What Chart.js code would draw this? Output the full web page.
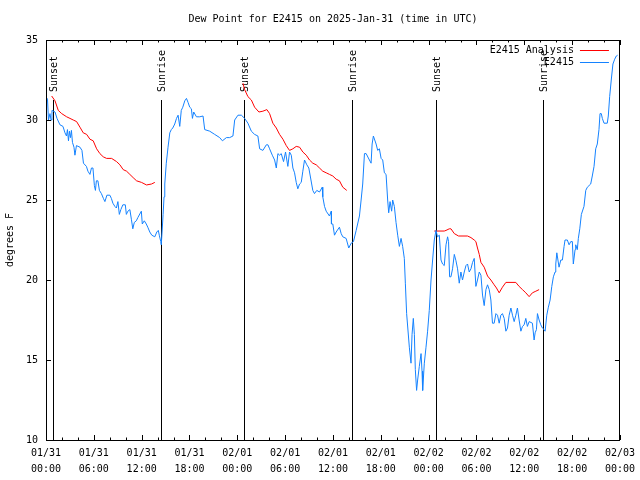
<!DOCTYPE html>
<html>
<head>
<meta charset="utf-8">
<title>Dew Point for E2415</title>
<script src="https://cdn.jsdelivr.net/npm/chart.js@4.4.1/dist/chart.umd.min.js"></script>
<style>
  html, body { margin: 0; padding: 0; background: #fff; }
  canvas { display: block; }
</style>
</head>
<body>
<canvas id="chart" width="640" height="480"></canvas>
<script>
// hours since 2025-01-31 00:00 UTC
const obsHours = [
  0.00,0.19,0.31,0.50,0.63,0.75,1.13,1.38,1.75,2.13,
  2.38,2.57,2.69,2.82,2.94,3.07,3.19,3.32,3.51,3.63,
  3.82,4.26,4.51,4.70,5.07,5.26,5.51,5.70,5.89,6.07,
  6.20,6.32,6.51,6.70,6.95,7.20,7.39,7.64,8.01,8.20,
  8.39,8.64,8.83,9.02,9.20,9.39,9.64,9.95,10.08,10.27,
  10.52,10.71,10.89,11.08,11.33,11.52,11.96,12.08,12.33,12.58,
  12.77,13.02,13.27,13.65,13.90,14.09,14.21,14.40,14.46,14.56,
  14.69,14.81,14.90,15.09,15.31,15.53,15.72,15.90,16.15,16.37,
  16.57,16.78,16.97,17.16,17.41,17.62,17.82,18.03,18.24,18.37,
  18.53,18.87,19.28,19.70,19.91,20.54,21.16,21.79,22.13,22.63,
  23.04,23.45,23.67,24.08,24.51,24.92,25.33,25.76,26.17,26.58,
  26.80,27.21,27.64,27.84,28.05,28.39,28.68,28.89,29.09,29.30,
  29.51,29.80,30.05,30.34,30.55,30.77,30.97,31.18,31.39,31.59,
  31.81,32.02,32.22,32.43,32.72,32.97,33.15,33.47,33.68,33.97,
  34.31,34.65,34.72,34.94,35.15,35.56,35.78,35.81,35.98,36.19,
  36.40,36.81,37.03,37.23,37.65,37.98,38.28,38.57,38.91,39.32,
  39.53,39.73,39.95,40.16,40.57,40.78,40.91,41.07,41.41,41.61,
  41.82,42.04,42.24,42.45,42.66,42.86,42.99,43.16,43.36,43.49,
  43.70,43.91,44.12,44.33,44.54,44.74,44.95,45.08,45.24,45.58,
  45.79,45.92,46.08,46.21,46.33,46.49,46.62,46.83,47.05,47.17,
  47.25,47.46,47.67,47.87,48.08,48.30,48.50,48.71,48.92,49.12,
  49.34,49.55,49.75,49.96,50.18,50.38,50.50,50.63,50.80,51.00,
  51.22,51.43,51.63,51.84,52.05,52.25,52.47,52.68,52.88,53.09,
  53.31,53.51,53.72,53.93,54.13,54.35,54.56,54.76,54.97,55.19,
  55.39,55.60,55.81,56.01,56.22,56.44,56.64,56.85,57.06,57.26,
  57.48,57.69,57.89,58.10,58.32,58.52,58.73,58.94,59.14,59.35,
  59.57,59.77,59.98,60.19,60.39,60.61,61.02,61.23,61.36,61.52,
  61.65,61.86,62.07,62.27,62.49,62.61,62.82,63.02,63.24,63.45,
  63.65,63.86,63.95,64.08,64.36,64.58,64.78,64.99,65.11,65.40,
  65.62,65.83,66.03,66.15,66.37,66.45,66.65,66.78,66.96,67.16,
  67.49,67.71,67.91,68.12,68.33,68.53,68.75,68.96,69.16,69.37,
  69.50,69.66,69.79,70.00,70.41,70.54,70.71,70.91,71.12,71.34,
  71.54,71.71
];
const obsDewpt = [
  31.45,31.3,30.0,30.4,30.0,30.6,30.5,30.1,29.7,29.6,
  29.2,29.0,29.4,28.7,29.3,28.9,29.35,28.6,28.3,27.8,
  28.4,28.3,28.1,27.3,27.1,26.8,26.6,27.0,27.0,25.9,
  25.6,26.2,26.2,25.6,25.4,25.1,24.9,25.3,25.3,25.1,
  24.8,24.6,24.5,24.9,24.1,24.4,24.7,24.7,24.1,24.3,
  24.4,23.8,23.2,23.6,23.7,23.9,24.3,23.5,23.7,23.5,
  23.3,23.0,22.8,22.7,23.0,23.1,22.8,22.4,22.2,23.0,
  24.1,25.2,26.0,27.3,28.3,29.2,29.4,29.5,29.75,30.1,
  30.3,29.6,30.6,30.8,31.2,31.35,31.1,30.8,30.7,30.1,
  30.5,30.2,30.2,30.25,29.4,29.3,29.1,28.9,28.7,28.9,
  28.9,29.0,30.0,30.3,30.3,30.1,29.8,29.3,29.1,29.0,
  28.2,28.1,28.45,28.45,28.2,27.8,27.5,27.0,27.9,27.8,
  27.9,27.4,28.0,27.1,28.0,27.8,27.0,26.7,26.1,25.7,
  26.0,26.1,26.8,27.5,27.2,27.0,26.5,25.6,25.4,25.6,
  25.5,25.8,25.2,24.6,24.3,24.0,24.3,23.5,23.5,22.8,
  23.0,23.3,22.9,22.7,22.6,22.0,22.3,22.4,23.1,24.0,
  25.0,26.0,27.9,27.9,27.5,27.3,28.5,29.0,28.5,28.1,
  28.2,27.6,27.5,26.7,26.6,25.0,24.2,24.9,24.3,25.0,
  24.6,23.6,22.8,22.1,22.6,22.1,21.35,19.8,17.9,15.8,
  14.8,16.6,17.6,16.6,14.4,13.1,13.75,14.6,15.4,14.3,
  13.1,14.8,15.8,16.8,18.1,20.0,21.25,22.5,23.1,22.7,
  22.8,21.25,21.0,20.9,22.2,22.7,22.4,20.2,20.2,20.7,
  21.6,21.2,20.7,19.8,20.5,20.0,20.5,20.9,21.0,20.5,
  20.7,21.1,21.35,19.6,20.0,20.5,20.3,19.06,18.4,19.4,
  19.7,19.4,18.75,17.3,17.3,17.9,17.8,17.3,17.8,17.9,
  17.6,16.8,17.0,17.8,18.25,17.8,17.4,17.8,18.25,17.5,
  16.8,17.1,17.2,17.6,17.1,17.4,17.3,16.25,16.7,16.9,
  17.9,17.5,17.2,17.0,16.9,16.8,17.8,18.3,18.75,19.6,
  20.2,20.5,21.0,21.7,20.8,21.25,21.25,22.1,22.5,22.5,
  22.2,22.4,22.4,21.0,21.9,22.2,21.9,22.6,23.2,24.1,
  24.6,25.6,25.8,25.9,26.0,26.5,27.1,28.2,28.5,29.4,
  30.4,30.4,30.1,29.8,29.8,30.25,31.46,32.5,33.5,33.8,
  34.0,34.05
];

// analysis runs, null marks a break between runs
const anaHours = [
  0.71,1.13,1.54,1.97,2.59,3.01,3.42,3.84,4.26,4.67,5.10,5.51,5.92,6.35,6.76,
  7.18,7.60,8.23,8.85,9.27,9.68,10.11,10.52,10.93,11.36,11.98,12.61,13.24,13.65,
  19.0,
  24.71,24.92,25.33,25.76,26.17,26.71,27.21,27.71,28.05,28.46,28.89,29.30,29.72,30.14,30.55,
  30.97,31.39,31.81,32.22,32.65,33.06,33.47,33.90,34.31,34.72,35.15,35.56,35.98,36.40,36.81,
  37.23,37.73,
  43.0,
  48.71,49.96,50.18,50.59,50.80,51.22,51.75,52.88,53.31,53.72,53.93,54.13,54.35,54.56,54.97,
  55.39,55.81,56.22,56.51,56.85,57.26,57.69,58.94,59.35,59.77,60.19,60.61,61.02,61.45,61.86
];
const anaDewpt = [
  31.5,31.2,30.6,30.4,30.2,30.1,30.0,29.9,29.55,29.2,29.1,28.8,28.7,28.2,27.9,
  27.7,27.6,27.6,27.4,27.2,26.9,26.8,26.6,26.4,26.2,26.1,25.94,26.0,26.1,
  null,
  32.3,31.9,31.46,31.25,30.8,30.5,30.55,30.65,30.4,29.8,29.5,29.1,28.8,28.4,28.1,
  28.2,28.35,28.3,28.0,27.8,27.5,27.3,27.2,27.0,26.8,26.7,26.6,26.5,26.3,26.2,
  25.8,25.6,
  null,
  23.06,23.06,23.1,23.2,23.2,22.9,22.75,22.75,22.65,22.5,22.4,22.0,21.6,21.1,20.8,
  20.25,20.0,19.7,19.5,19.2,19.55,19.85,19.85,19.6,19.4,19.2,18.96,19.2,19.3,19.4
];

const sunHours = [0.91, 14.40, 24.83, 38.36, 48.90, 62.40];
const sunNames = ['Sunset', 'Sunrise', 'Sunset', 'Sunrise', 'Sunset', 'Sunrise'];

const tickDates = ['01/31','01/31','01/31','01/31','02/01','02/01','02/01','02/01','02/02','02/02','02/02','02/02','02/03'];
const tickTimes = ['00:00','06:00','12:00','18:00','00:00','06:00','12:00','18:00','00:00','06:00','12:00','18:00','00:00'];

const seriesNames = ['E2415 Analysis', 'E2415'];
const seriesColors = ['#ff0000', '#1482ff'];

const FONT = '10px "DejaVu Sans Mono", monospace';
Chart.defaults.font.family = '"DejaVu Sans Mono", monospace';
Chart.defaults.font.size = 10;
Chart.defaults.color = '#000';

const toPoints = (xs, ys) => xs.map((h, i) => ({x: h, y: ys[i]}));

// gnuplot-like frame: border, inward ticks, sun markers, title, legend
const gnuFrame = {
    id: 'gnuFrame',
    beforeDatasetsDraw(chart) {
        const {ctx, chartArea: a, scales: {x, y}} = chart;
        const span = y.max - y.min;
        ctx.save();
        ctx.strokeStyle = '#000';
        ctx.lineWidth = 1;
        const lineTop = Math.round(y.getPixelForValue(y.min + 0.85 * span));
        sunHours.forEach(h => {
            const px = Math.round(x.getPixelForValue(h)) + 0.5;
            ctx.beginPath();
            ctx.moveTo(px, a.bottom);
            ctx.lineTo(px, lineTop);
            ctx.stroke();
        });
        ctx.fillStyle = '#000';
        ctx.font = FONT;
        ctx.textAlign = 'left';
        ctx.textBaseline = 'middle';
        const labelY = y.getPixelForValue(y.min + 0.87 * span);
        sunHours.forEach((h, i) => {
            const px = Math.round(x.getPixelForValue(h)) + 1;
            ctx.save();
            ctx.translate(px, labelY);
            ctx.rotate(-Math.PI / 2);
            ctx.fillText(sunNames[i], 0, 0);
            ctx.restore();
        });
        ctx.restore();
    },
    afterDatasetsDraw(chart) {
        const {ctx, chartArea: a, scales: {x, y}} = chart;
        ctx.save();
        ctx.strokeStyle = '#000';
        ctx.lineWidth = 1;
        ctx.beginPath();
        x.ticks.forEach(t => {
            const px = Math.round(x.getPixelForValue(t.value)) + 0.5;
            const len = t.value % 6 === 0 ? 5 : 2.5;
            ctx.moveTo(px, a.bottom);
            ctx.lineTo(px, a.bottom - len);
            ctx.moveTo(px, a.top);
            ctx.lineTo(px, a.top + len);
        });
        y.ticks.forEach(t => {
            const py = Math.round(y.getPixelForValue(t.value)) + 0.5;
            ctx.moveTo(a.left, py);
            ctx.lineTo(a.left + 5, py);
            ctx.moveTo(a.right, py);
            ctx.lineTo(a.right - 5, py);
        });
        ctx.stroke();
        ctx.strokeRect(Math.round(a.left) + 0.5, Math.round(a.top) + 0.5,
            Math.round(a.right - a.left) - 1, Math.round(a.bottom - a.top));

        ctx.fillStyle = '#000';
        ctx.font = FONT;
        ctx.textBaseline = 'middle';
        ctx.textAlign = 'center';
        ctx.fillText('Dew Point for E2415 on 2025-Jan-31 (time in UTC)', (a.left + a.right) / 2, 19);

        // legend, top right inside the frame
        seriesNames.forEach((name, i) => {
            const ly = a.top + 10 + i * 12;
            ctx.fillStyle = '#000';
            ctx.textAlign = 'right';
            ctx.fillText(name, a.right - 46, ly);
            ctx.strokeStyle = seriesColors[i];
            ctx.beginPath();
            ctx.moveTo(a.right - 40, Math.round(ly) + 0.5);
            ctx.lineTo(a.right - 11, Math.round(ly) + 0.5);
            ctx.stroke();
        });
        ctx.restore();
    }
};

new Chart(document.getElementById('chart'), {
    type: 'line',
    data: {
        datasets: [
            {
                label: seriesNames[1],
                data: toPoints(obsHours, obsDewpt),
                borderColor: seriesColors[1],
                borderWidth: 1,
                pointRadius: 0,
                tension: 0,
                order: 0
            },
            {
                label: seriesNames[0],
                data: toPoints(anaHours, anaDewpt),
                borderColor: seriesColors[0],
                borderWidth: 1,
                pointRadius: 0,
                tension: 0,
                spanGaps: false,
                order: 1
            }
        ]
    },
    options: {
        responsive: false,
        animation: false,
        layout: { padding: { top: 40, right: 19, left: 0, bottom: 0 } },
        plugins: {
            legend: { display: false },
            title: { display: false },
            tooltip: { enabled: false }
        },
        scales: {
            x: {
                type: 'linear',
                min: 0,
                max: 72,
                grid: { display: false, drawTicks: false },
                border: { display: false },
                ticks: {
                    stepSize: 2,
                    autoSkip: false,
                    maxRotation: 0,
                    padding: 5,
                    font: { size: 10, lineHeight: 1.6 },
                    callback: v => v % 6 === 0 ? [tickDates[v / 6], tickTimes[v / 6]] : ''
                },
                afterFit: s => { s.height = 40; }
            },
            y: {
                min: 10,
                max: 35,
                grid: { display: false, drawTicks: false },
                border: { display: false },
                ticks: { stepSize: 5, padding: 8 },
                title: {
                    display: true,
                    text: 'degrees F',
                    padding: { top: 4, bottom: 0 },
                    font: { size: 10 }
                },
                afterFit: s => { s.width = 46; }
            }
        }
    },
    plugins: [gnuFrame]
});
</script>
</body>
</html>
